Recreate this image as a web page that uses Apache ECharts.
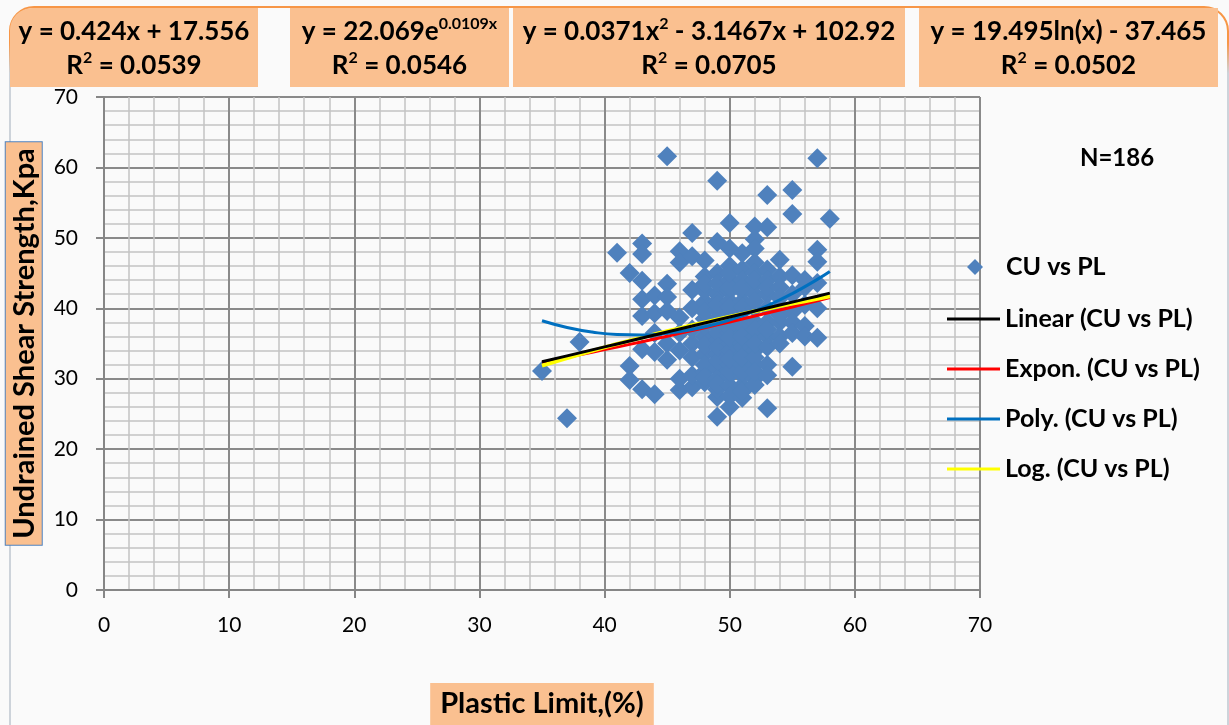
<!DOCTYPE html>
<html><head><meta charset="utf-8">
<script src="https://cdn.jsdelivr.net/npm/echarts@6/dist/echarts.min.js"></script>
<style>html,body{margin:0;padding:0;background:#fff}#c{width:1229px;height:725px}</style>
</head><body><div id="c"></div>
<script>
// ---- data ----
const seriesName = 'CU vs PL';
const cuVsPl = [
  [35,31.1],[37,24.4],[38,35.2],[41,47.9],
  [42,45.0],[42,31.8],[42,29.8],
  [43,49.2],[43,47.7],[43,43.9],[43,41.3],[43,38.9],[43,34.2],[43,28.5],
  [44,41.8],[44,39.3],[44,33.8],[44,27.8],[44,36.5],
  [45,61.6],[45,43.5],[45,41.6],[45,39.6],[45,32.7],[45,35.0],
  [46,48.1],[46,46.5],[46,38.7],[46,34.0],[46,28.4],[46,36.5],[46,30.0],
  [47,50.7],[47,47.4],[47,42.6],[47,40.0],[47,35.0],[47,28.8],[47,37.0],[47,33.0],[47,30.5],
  [48,46.8],[48,44.5],[48,40.9],[48,38.5],[48,36.0],[48,33.5],[48,31.0],[48,29.5],[48,42.5],[48,34.8],[48,37.5],[48,32.0],[48,39.5],[48,43.5],[48,30.2],
  [49,58.1],[49,49.4],[49,45.0],[49,42.0],[49,39.8],[49,37.5],[49,35.5],[49,33.5],[49,31.5],[49,30.0],[49,27.4],[49,24.6],[49,43.5],[49,41.0],[49,36.5],[49,32.5],[49,28.5],[49,38.5],[49,34.5],[49,29.2],[49,40.5],
  [50,52.1],[50,48.5],[50,46.0],[50,44.0],[50,42.5],[50,41.0],[50,39.5],[50,38.0],[50,36.5],[50,35.0],[50,33.5],[50,32.0],[50,30.5],[50,29.0],[50,26.0],[50,43.0],[50,37.0],[50,34.0],[50,31.0],[50,27.5],[50,40.2],[50,35.8],[50,32.8],[50,45.0],
  [51,47.8],[51,45.5],[51,44.0],[51,42.5],[51,41.0],[51,39.5],[51,38.0],[51,36.5],[51,35.0],[51,33.5],[51,32.0],[51,30.5],[51,29.0],[51,27.3],[51,43.0],[51,37.5],[51,34.5],[51,31.0],[51,40.2],[51,36.0],[51,33.0],[51,28.2],
  [52,51.6],[52,49.8],[52,48.5],[52,46.5],[52,45.0],[52,43.5],[52,42.0],[52,40.0],[52,38.0],[52,36.0],[52,34.0],[52,32.0],[52,30.0],[52,29.1],[52,44.0],[52,37.0],[52,33.0],[52,41.0],[52,35.0],[52,31.0],
  [53,56.1],[53,51.5],[53,45.5],[53,44.0],[53,42.0],[53,40.0],[53,38.0],[53,36.0],[53,34.5],[53,32.0],[53,25.8],[53,43.0],[53,37.0],[53,30.5],
  [54,46.9],[54,44.5],[54,43.0],[54,41.5],[54,40.0],[54,38.0],[54,36.0],[54,35.0],[54,39.0],
  [55,56.8],[55,53.4],[55,44.7],[55,42.0],[55,39.5],[55,38.0],[55,31.7],[55,36.5],
  [56,43.0],[56,40.5],[56,37.5],[56,36.0],[56,44.0],
  [57,61.3],[57,48.3],[57,46.6],[57,43.6],[57,40.0],[57,35.8],
  [58,52.7]
];
const trendX  = [35,37,39,41,43,45,47,49,51,53,55,57,58];
const linearY = [32.40,33.24,34.09,34.94,35.79,36.64,37.48,38.33,39.18,40.03,40.88,41.72,42.15];
const exponY  = [32.32,33.03,33.76,34.50,35.26,36.04,36.84,37.65,38.48,39.33,40.19,41.08,41.53];
const polyY   = [38.23,37.28,36.63,36.27,36.21,36.45,36.98,37.81,38.94,40.36,42.08,44.10,45.22];
const logY    = [31.85,32.93,33.96,34.93,35.86,36.75,37.59,38.41,39.19,39.94,40.66,41.35,41.69];
const trendNames = ['Linear (CU vs PL)','Expon. (CU vs PL)','Poly. (CU vs PL)','Log. (CU vs PL)'];
const xAxisTicks = [0,10,20,30,40,50,60,70];
const yAxisTicks = [0,10,20,30,40,50,60,70];
const equationTexts = [
  ['{m|y = 0.424x + 17.556}', '{m|R}{s|2}{m| = 0.0539}'],
  ['{m|y = 22.069e}{s|0.0109x}', '{m|R}{s|2}{m| = 0.0546}'],
  ['{m|y = 0.0371x}{s|2}{m| - 3.1467x + 102.92}', '{m|R}{s|2}{m| = 0.0705}'],
  ['{m|y = 19.495ln(x) - 37.465}', '{m|R}{s|2}{m| = 0.0502}']
];
const countLabel = 'N=186';
const xTitle = 'Plastic Limit,(%)';
const yTitle = 'Undrained Shear Strength,Kpa';

// ---- presentation ----
const FONT = 'Lato';
const PEACH = '#FAC090';
const pair = (xs, ys) => xs.map((x, i) => [x, ys[i]]);
const eqBoxes = [{x:10,w:248},{x:290,w:219},{x:513,w:392},{x:919,w:299}];
const rich = {
  m: {fontFamily: FONT, fontWeight: 'bold', fontSize: 26, lineHeight: 32, color: '#000'},
  s: {fontFamily: FONT, fontWeight: 'bold', fontSize: 16, lineHeight: 32, verticalAlign: 'top', color: '#000', padding:[0,0,11,0]}
};
const graphics = [
  {type:'rect', shape:{x:10,y:7,width:1218,height:760,r:24}, silent:true, z:-1,
   style:{fill:'none', stroke:{type:'linear',x:0,y:0,x2:0,y2:1,colorStops:[{offset:0,color:'#F79646'},{offset:0.05,color:'#F79646'},{offset:0.09,color:'#cdd3da'},{offset:1,color:'#cdd3da'}]}, lineWidth:2}}
];
eqBoxes.forEach((b, i) => {
  const r = i === 0 ? [22,0,0,0] : 0;
  graphics.push({type:'rect', shape:{x:b.x, y:8, width:b.w, height:79, r:r}, silent:true, style:{fill:PEACH}});
  graphics.push({type:'text', x:b.x + b.w/2, y:32, silent:true,
    style:{text:equationTexts[i][0], rich:rich, align:'center', verticalAlign:'middle'}});
  graphics.push({type:'text', x:b.x + b.w/2, y:66, silent:true,
    style:{text:equationTexts[i][1], rich:rich, align:'center', verticalAlign:'middle'}});
});
graphics.push({type:'text', x:1117, y:158, silent:true,
  style:{text:countLabel, font:'bold 24px ' + FONT, fill:'#000', align:'center', verticalAlign:'middle'}});

const lineColors = ['#000000','#FF0000','#0070C0','#FFFF00'];
const lineData = [linearY, exponY, polyY, logY];
const lineSeries = trendNames.map((n, i) => ({
  name: n, type: 'line', data: pair(trendX, lineData[i]), smooth: true, symbol: 'none', showSymbol: false,
  lineStyle: {color: lineColors[i], width: i === 3 ? 4 : 3}, itemStyle:{color: lineColors[i]},
  z: [6,3,5,4][i], silent: true
}));

const axisCommon = {
  type: 'value', min: xAxisTicks[0], max: xAxisTicks[xAxisTicks.length-1], interval: 10,
  axisLine: {show: true, lineStyle: {color: '#868686', width: 2}},
  axisTick: {show: true, length: 8, lineStyle: {color: '#868686', width: 2}},
  axisLabel: {fontFamily: FONT, fontSize: 21, color: '#000', margin: 25},
  splitLine: {show: true, lineStyle: {color: '#8a8a8a', width: 2}},
  minorTick: {show: false, splitNumber: 5},
  minorSplitLine: {show: true, lineStyle: {color: '#c4c4c4', width: 1.5}}
};

const chart = echarts.init(document.getElementById('c'));
chart.setOption({
  backgroundColor: '#fafafa',
  animation: false,
  graphic: graphics,
  grid: {left: 104, right: 249, top: 97, bottom: 135, containLabel: false, outerBoundsMode: 'none'},
  xAxis: Object.assign({}, axisCommon, {
    name: xTitle, nameLocation: 'middle', nameGap: 93,
    nameTextStyle: {fontFamily: FONT, fontWeight: 'bold', fontSize: 29, color: '#000', backgroundColor: PEACH, padding: [6,10,12,10]}
  }),
  yAxis: Object.assign({}, axisCommon, {
    min: yAxisTicks[0], max: yAxisTicks[yAxisTicks.length-1],
    axisLabel: {fontFamily: FONT, fontSize: 21, color: '#000', margin: 26},
    name: yTitle, nameLocation: 'middle', nameGap: 44, nameRotate: 90,
    nameTextStyle: {fontFamily: FONT, fontWeight: 'bold', fontSize: 29, color: '#000', backgroundColor: PEACH, borderColor: '#4F81BD', borderWidth: 1, padding: [4,6,3,6]}
  }),
  legend: [
    {data: [{name: seriesName, icon: 'diamond'}], orient: 'vertical', left: 967, top: 252, padding: 0, itemWidth: 16, itemHeight: 16,
     textStyle: {fontFamily: FONT, fontWeight: 'bold', fontSize: 25, lineHeight: 30, color: '#000', padding: [0,0,0,18]}},
    {data: trendNames.map(n => ({name: n, icon: 'rect'})), orient: 'vertical', left: 947, top: 304, padding: 0, itemWidth: 53, itemHeight: 3, itemGap: 20,
     textStyle: {fontFamily: FONT, fontWeight: 'bold', fontSize: 25, lineHeight: 30, color: '#000'}}
  ],
  series: [
    {name: seriesName, type: 'scatter', data: cuVsPl, symbol: 'diamond', symbolSize: 20,
     itemStyle: {color: '#4F81BD', opacity: 1}, z: 2, silent: true}
  ].concat(lineSeries)
});
</script></body></html>
